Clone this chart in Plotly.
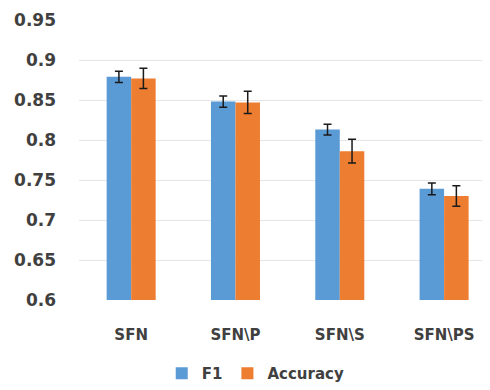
import plotly.graph_objects as go

categories = ["SFN", "SFN\\P", "SFN\\S", "SFN\\PS"]
f1_values = [0.879, 0.848, 0.813, 0.739]
f1_errors = [0.007, 0.007, 0.0066, 0.0074]
acc_values = [0.877, 0.847, 0.786, 0.730]
acc_errors = [0.0127, 0.014, 0.0148, 0.0127]
y_ticks = [0.6, 0.65, 0.7, 0.75, 0.8, 0.85, 0.9, 0.95]
y_tick_labels = ["0.6", "0.65", "0.7", "0.75", "0.8", "0.85", "0.9", "0.95"]

font_family = "DejaVu Sans, Liberation Sans, sans-serif"
text_color = "#404040"

fig = go.Figure()
fig.add_trace(go.Bar(
    name="F1", x=categories, y=f1_values,
    marker=dict(color="#5B9BD5", line=dict(width=0)),
    error_y=dict(type="data", array=f1_errors, visible=True,
                 color="#1a1a1a", thickness=1.5, width=4),
))
fig.add_trace(go.Bar(
    name="Accuracy", x=categories, y=acc_values,
    marker=dict(color="#ED7D31", line=dict(width=0)),
    error_y=dict(type="data", array=acc_errors, visible=True,
                 color="#1a1a1a", thickness=1.5, width=4),
))

# page body has an 8px default margin; size/margins compensate for it
fig.update_layout(
    width=482, height=382,
    margin=dict(l=71, r=0, t=12, b=90),
    paper_bgcolor="white", plot_bgcolor="white",
    barmode="group", bargap=0.53, bargroupgap=0.0,
    font=dict(family=font_family, color=text_color, size=15),
    showlegend=True,
    legend=dict(orientation="h", x=0.43, xanchor="center", y=-0.264, yanchor="middle",
                font=dict(size=15, family=font_family, weight="bold"),
                itemwidth=30, traceorder="normal"),
    xaxis=dict(range=[-0.5, 3.44], showgrid=False, showline=False, zeroline=False,
               automargin=False, ticklabeloverflow="allow",
               ticks="", tickfont=dict(size=15, weight="bold"), ticklabelstandoff=24),
    yaxis=dict(range=[0.6, 0.95], tickvals=y_ticks, ticktext=y_tick_labels,
               showgrid=True, gridcolor="#E6E6E6", gridwidth=1, zeroline=False,
               automargin=False, ticklabeloverflow="allow",
               showline=False, ticks="", tickfont=dict(size=17, weight="bold"),
               ticklabelstandoff=22),
)

fig.write_html("out.html")
